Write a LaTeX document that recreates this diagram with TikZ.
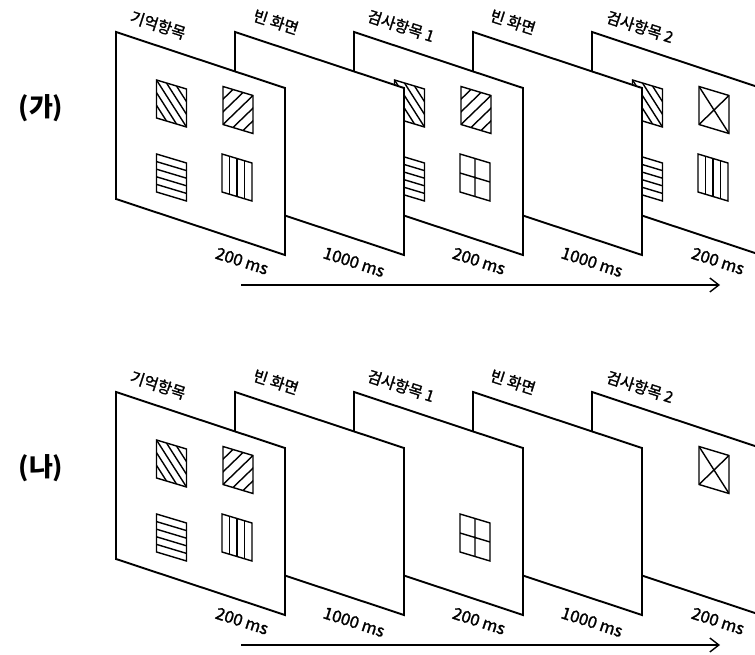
\documentclass[tikz,border=0pt]{standalone}
\usepackage{fontspec}
\newfontfamily\kr{Noto Sans CJK KR}[FakeBold=1.5]
\newfontfamily\krb{Noto Sans CJK KR}
\usetikzlibrary{arrows.meta}

\tikzset{
  panelbox/.style={draw=black, fill=white, line width=1.9pt, line join=miter},
  itemline/.style={draw=black, line width=1.4pt},
  toplabel/.style={font=\kr\fontsize{15.5}{17}\selectfont, rotate=-18, inner sep=0pt},
  timelabel/.style={font=\kr\fontsize{16.5}{18}\selectfont, rotate=-18, inner sep=0pt},
  rowlabel/.style={font=\krb\bfseries\fontsize{26}{30}\selectfont, inner sep=0pt},
  timeline/.style={line width=1.4pt, -{Straight Barb[length=9pt,width=14pt,line width=1.4pt]}},
}

% panel: left x, top y
\newcommand{\drawpanel}[2]{%
  \filldraw[panelbox] (#1,#2) -- ++(169,56) -- ++(0,167) -- ++(-169,-56) -- cycle;}

% item frame: top-left x, y, content
\newcommand{\stim}[3]{%
  \begin{scope}[shift={(#1,#2)}, x={(30pt,-9pt)}, y={(0pt,-38pt)}]
    \begin{scope}
      \clip (0,0) -- (1,0) -- (1,1) -- (0,1) -- cycle;
      #3
    \end{scope}
    \draw[itemline, line join=miter] (0,0) -- (1,0) -- (1,1) -- (0,1) -- cycle;
  \end{scope}}

\newcommand{\hatchdown}{\foreach \k in {-0.667,-0.333,0,0.333,0.667} \draw[itemline] (\k,0) -- ({\k+1},1);}
\newcommand{\hatchup}{\foreach \k in {-0.667,-0.333,0,0.333,0.667} \draw[itemline] (\k,1) -- ({\k+1},0);}
\newcommand{\horiz}{\foreach \v in {0.2,0.4,0.6,0.8} \draw[itemline] (0,\v) -- (1,\v);}
\newcommand{\vertl}{\foreach \u in {0.25,0.5,0.75} \draw[itemline] (\u,0) -- (\u,1);}
\newcommand{\plusgrid}{\draw[itemline] (0.5,0) -- (0.5,1) (0,0.5) -- (1,0.5);}
\newcommand{\crossx}{\draw[itemline] (0,0) -- (1,1) (1,0) -- (0,1);}

% item positions relative to panel left L and top T
\newcommand{\itTL}[3]{\stim{#1+40.5}{#2+48}{#3}}
\newcommand{\itTR}[3]{\stim{#1+107}{#2+54.5}{#3}}
\newcommand{\itBL}[3]{\stim{#1+40.5}{#2+122}{#3}}
\newcommand{\itBR}[3]{\stim{#1+106}{#2+122}{#3}}

\begin{document}
\begin{tikzpicture}[x=1pt, y=-1pt]
\useasboundingbox (0,0) rectangle (755,655);
\clip (0,0) rectangle (755,655);

% ===== Row (가) =====
\begin{scope}
\drawpanel{592}{32}
\itTL{592}{32}{\hatchdown}
\itTR{592}{32}{\crossx}
\itBL{592}{32}{\horiz}
\itBR{592}{32}{\vertl}
\drawpanel{473}{32}
\drawpanel{354}{32}
\itTL{354}{32}{\hatchdown}
\itTR{354}{32}{\hatchup}
\itBL{354}{32}{\horiz}
\itBR{354}{32}{\plusgrid}
\drawpanel{235}{32}
\drawpanel{116}{32}
\itTL{116}{32}{\hatchdown}
\itTR{116}{32}{\hatchup}
\itBL{116}{32}{\horiz}
\itBR{116}{32}{\vertl}
\end{scope}

\node[rowlabel] (ga) at (41,108) {(가)};
\node[toplabel] (ga1) at (158,25) {기억항목};
\node[toplabel] (ga2) at (276,22) {빈 화면};
\node[toplabel] (ga3) at (401,26) {검사항목 1};
\node[toplabel] (ga4) at (513,22) {빈 화면};
\node[toplabel] (ga5) at (640,27) {검사항목 2};
\node[timelabel] (gt1) at (242,261) {200 ms};
\node[timelabel] (gt2) at (354,262) {1000 ms};
\node[timelabel] (gt3) at (479,261) {200 ms};
\node[timelabel] (gt4) at (592,262) {1000 ms};
\node[timelabel] (gt5) at (718,261) {200 ms};
\coordinate (gas) at (241,285);
\coordinate (gae) at (720,285);
\draw[timeline] (gas) -- (gae);

% ===== Row (나) =====
\begin{scope}
\drawpanel{592}{392}
\itTR{592}{392}{\crossx}
\drawpanel{473}{392}
\drawpanel{354}{392}
\itBR{354}{392}{\plusgrid}
\drawpanel{235}{392}
\drawpanel{116}{392}
\itTL{116}{392}{\hatchdown}
\itTR{116}{392}{\hatchup}
\itBL{116}{392}{\horiz}
\itBR{116}{392}{\vertl}
\end{scope}

\node[rowlabel] (na) at (41,468) {(나)};
\node[toplabel] (na1) at (158,385) {기억항목};
\node[toplabel] (na2) at (276,382) {빈 화면};
\node[toplabel] (na3) at (401,386) {검사항목 1};
\node[toplabel] (na4) at (513,382) {빈 화면};
\node[toplabel] (na5) at (640,387) {검사항목 2};
\node[timelabel] (nt1) at (242,621) {200 ms};
\node[timelabel] (nt2) at (354,622) {1000 ms};
\node[timelabel] (nt3) at (479,621) {200 ms};
\node[timelabel] (nt4) at (592,622) {1000 ms};
\node[timelabel] (nt5) at (718,621) {200 ms};
\coordinate (nas) at (241,645);
\coordinate (nae) at (720,645);
\draw[timeline] (nas) -- (nae);
\end{tikzpicture}
\end{document}
